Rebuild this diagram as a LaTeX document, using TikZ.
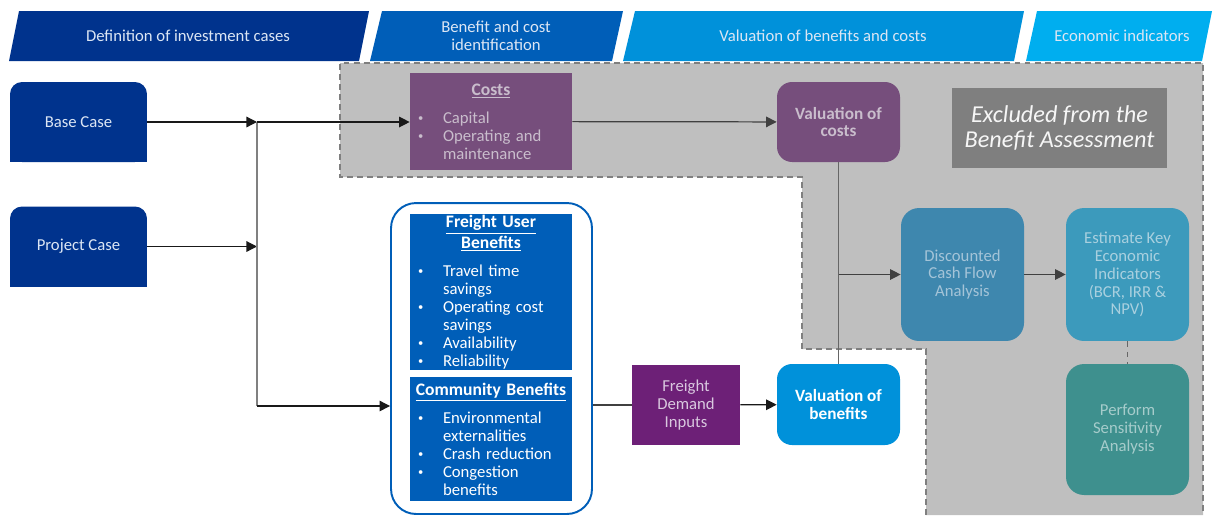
\documentclass[tikz,border=0pt]{standalone}
\usepackage{fontspec}
\setmainfont{Carlito}
\usetikzlibrary{arrows.meta,backgrounds}

\definecolor{kpmgnavy}{HTML}{00338D}
\definecolor{kpmgblue}{HTML}{005EB8}
\definecolor{kpmgmed}{HTML}{0091DA}
\definecolor{kpmgcyan}{HTML}{00AEEF}
\definecolor{costpurple}{HTML}{764E7C}
\definecolor{fdipurple}{HTML}{6D2077}
\definecolor{zonegray}{HTML}{BFBFBF}
\definecolor{exclgray}{HTML}{7F7F7F}
\definecolor{dcfblue}{HTML}{3E87AE}
\definecolor{ekiblue}{HTML}{3C9ABC}
\definecolor{psateal}{HTML}{3E908E}
\definecolor{hdrtext}{HTML}{DCE6F4}
\definecolor{fadetext}{HTML}{C9BDCC}

\newcommand{\bul}{\makebox[0.5cm][l]{\raisebox{0.2ex}{\fontsize{6}{6}\selectfont\textbullet}}}
\newcommand{\ind}{\hspace*{0.5cm}}
\newcommand{\ttl}[1]{\makebox[2.92cm]{\fontsize{10}{10.2}\selectfont\bfseries\underline{#1}}}

\tikzset{
  every node/.style={font=\fontsize{9.5}{10.2}\selectfont},
  hdr/.style={text=hdrtext, align=center},
  casebox/.style={fill=kpmgnavy, text=hdrtext, rounded corners=0.24cm, minimum width=2.74cm, minimum height=1.6cm},
  listbox/.style={text=white, text width=2.92cm, align=left, inner xsep=0.16cm, inner ysep=0pt, minimum width=3.24cm},
  stepbox/.style={rounded corners=0.3cm, minimum width=2.46cm, align=center, inner sep=2pt},
  boldtext/.style={font=\fontsize{9.8}{10.2}\selectfont\bfseries},
  conn/.style={line width=0.7pt, draw=black!90},
  arr/.style={conn, -{Triangle[length=6pt,width=6pt]}},
}

\begin{document}
\begin{tikzpicture}[x=0.02cm,y=-0.02cm]
\useasboundingbox (0,0) rectangle (1213,515);

% phase banners
\fill[kpmgnavy] (19,11) -- (369,11) -- (359,61) -- (9,61) -- cycle;
\fill[kpmgblue] (382,11) -- (623,11) -- (612,61) -- (370,61) -- cycle;
\fill[kpmgmed] (635,11) -- (1024,11) -- (1014,61) -- (623,61) -- cycle;
\fill[kpmgcyan] (1037,11) -- (1212,11) -- (1202,61) -- (1026,61) -- cycle;
\node[hdr] (h1) at (188,36) {Definition of investment cases};
\node[hdr] (h2) at (496,36) {Benefit and cost\\identification};
\node[hdr] (h3) at (823,36) {Valuation of benefits and costs};
\node[hdr] (h4) at (1122,36) {Economic indicators};

% excluded zone
\fill[zonegray] (340,63) -- (1203,63) -- (1203,515) -- (926,515) -- (926,349) -- (802,349) -- (802,177) -- (340,177) -- cycle;
\draw[exclgray, line width=0.9pt, dash pattern=on 3.4pt off 2.3pt] (926,515) -- (926,349) -- (802,349) -- (802,177) -- (340,177) -- (340,63) -- (1203,63) -- (1203,515);

\node[casebox] (base) at (78.5,122) {Base Case};
\node[casebox] (project) at (78.5,246.5) {Project Case};
\begin{scope}[on background layer]
\fill[kpmgnavy] (base.west) rectangle (base.south east);
\fill[kpmgnavy] (project.west) rectangle (project.south east);
\end{scope}

\node[listbox, fill=costpurple, text=fadetext, minimum height=1.94cm] (costs) at (491,121.5)
  {\ttl{Costs}\\[6pt] \bul Capital\\ \bul Operating and\\ \ind maintenance};
\node[stepbox, boldtext, fill=costpurple, text=fadetext, minimum height=1.6cm] (valcost) at (838.5,122) {Valuation of\\costs};
\node[fill=exclgray, text=white!93!gray, minimum width=4.3cm, minimum height=1.6cm, align=center, font=\fontsize{13.8}{13.8}\selectfont\itshape] (excl) at (1059.5,128) {Excluded from the\\Benefit Assessment};

\node[stepbox, rounded corners=0.36cm, fill=dcfblue, text={rgb,255:red,164;green,196;blue,216}, minimum height=2.66cm] (dcf) at (962.5,274.5) {Discounted\\Cash Flow\\Analysis};
\node[stepbox, rounded corners=0.36cm, fill=ekiblue, text={rgb,255:red,169;green,208;blue,223}, minimum height=2.66cm] (eki) at (1127.5,274.5) {Estimate Key\\Economic\\Indicators\\(BCR, IRR \&\\NPV)};
\node[stepbox, rounded corners=0.36cm, fill=psateal, text={rgb,255:red,166;green,204;blue,203}, minimum height=2.62cm] (psa) at (1127.5,429.5) {Perform\\Sensitivity\\Analysis};

% benefit lists
\node[draw=kpmgblue, line width=1.1pt, rounded corners=0.5cm, minimum width=4.02cm, minimum height=6.22cm] (benefits) at (491.5,358.5) {};
\node[listbox, fill=kpmgblue, minimum height=3.12cm] (fub) at (491,292)
  {\ttl{Freight User}\\ \ttl{Benefits}\\[6pt]
   \bul Travel time\\ \ind savings\\
   \bul Operating cost\\ \ind savings\\
   \bul Availability\\
   \bul Reliability};
\node[listbox, fill=kpmgblue, minimum height=2.48cm] (comm) at (491,439)
  {\ttl{Community Benefits}\\[6pt]
   \bul Environmental\\ \ind externalities\\
   \bul Crash reduction\\
   \bul Congestion\\ \ind benefits};

\node[fill=fdipurple, text={rgb,255:red,217;green,200;blue,223}, minimum width=2.16cm, minimum height=1.6cm, align=center] (fdi) at (686,405) {Freight\\Demand\\Inputs};
\node[stepbox, boldtext, fill=kpmgmed, text=white, minimum height=1.62cm] (valben) at (838.5,404.5) {Valuation of\\benefits};

% connectors
\coordinate (jtop) at (257,122);
\coordinate (jmid) at (257,246.5);
\coordinate (jbot) at (257,406);
\draw[arr] (base) -- (jtop);
\draw[arr] (project) -- (jmid);
\draw[conn, draw=gray] (jtop) -- (jbot);
\draw[arr] (jtop) -- (jtop -| costs.west);
\draw[arr] (jbot) -- (jbot -| benefits.west);
\draw[conn, draw=black!75] (benefits.east |- fdi.west) -- (fdi.west);
\draw[arr] (fdi) -- (valben);
\draw[arr, draw=black!75] (costs) -- (valcost);
\draw[conn, draw=gray!80!black] (valcost) -- (valben);
\coordinate (jdcf) at (valcost.south |- dcf.west);
\draw[arr, draw=black!75] (jdcf) -- (dcf);
\draw[arr, draw=black!75] (dcf) -- (eki);
\draw[conn, dashed, draw=gray!80!black] (eki) -- (psa);
\end{tikzpicture}
\end{document}
